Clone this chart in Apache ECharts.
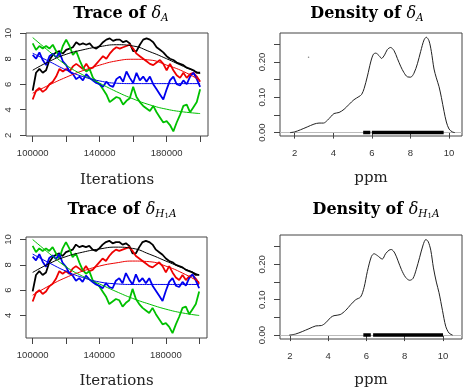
<!DOCTYPE html>
<html>
<head>
<meta charset="utf-8">
<script src="https://cdn.jsdelivr.net/npm/echarts@6.0.0/dist/echarts.min.js"></script>
<style>
  html, body { margin: 0; padding: 0; background: #fff; }
  #chart { width: 468px; height: 390px; }
</style>
</head>
<body>
<div id="chart"></div>
<script>
// iterations (trace thinned every 2000)
var iters = [100000, 102000, 104000, 106000, 108000, 110000, 112000, 114000, 116000, 118000,
  120000, 122000, 124000, 126000, 128000, 130000, 132000, 134000, 136000, 138000,
  140000, 142000, 144000, 146000, 148000, 150000, 152000, 154000, 156000, 158000,
  160000, 162000, 164000, 166000, 168000, 170000, 172000, 174000, 176000, 178000,
  180000, 182000, 184000, 186000, 188000, 190000, 192000, 194000, 196000, 198000, 200000];
var smoothIters = [100000, 110000, 120000, 130000, 140000, 150000, 160000, 170000, 180000, 190000, 200000];

// trace of delta_A, four chains
var aBlack = [5.5, 6.9, 7.2, 6.9, 7.1, 7.9, 8.3, 8.5, 8.6, 8.4, 8.7, 8.8, 8.9, 9.3, 9.1, 9.2, 9.1, 9.2, 8.9, 8.8,
  9.0, 9.3, 9.5, 9.6, 9.4, 9.5, 9.5, 9.3, 9.4, 9.2, 8.6, 8.6, 9.1, 9.5, 9.6, 9.5, 9.3, 8.9, 8.7, 8.5,
  8.2, 8.0, 7.9, 7.7, 7.6, 7.5, 7.3, 7.2, 7.1, 6.9, 6.9];
var aRed = [4.8, 5.5, 5.7, 5.4, 5.6, 6.0, 6.2, 6.6, 7.2, 7.0, 7.2, 7.0, 7.4, 7.6, 7.4, 7.2, 7.6, 7.2, 7.3, 7.6,
  7.9, 8.2, 8.0, 8.4, 8.7, 8.9, 8.8, 8.9, 9.0, 9.1, 8.8, 8.4, 8.2, 8.0, 7.8, 7.6, 7.5, 7.7, 7.9, 7.6,
  7.1, 7.6, 7.1, 6.7, 6.5, 6.9, 6.5, 6.8, 6.9, 6.6, 6.2];
var aBlue = [8.3, 8.0, 8.5, 7.9, 7.5, 8.2, 8.4, 8.1, 8.5, 7.8, 7.5, 7.0, 6.8, 6.4, 6.6, 6.3, 6.8, 6.5, 6.3, 6.1,
  6.0, 5.8, 6.2, 5.9, 5.8, 6.4, 6.6, 6.2, 7.0, 6.5, 6.1, 6.9, 6.3, 6.6, 6.2, 6.6, 6.0, 5.6, 5.2, 4.8,
  5.6, 6.3, 6.6, 6.0, 5.9, 6.3, 6.0, 6.6, 6.9, 6.4, 5.8];
var aGreen = [9.2, 8.7, 9.0, 8.8, 9.0, 8.8, 9.1, 8.6, 8.2, 9.0, 9.5, 9.0, 8.3, 8.6, 7.9, 7.3, 7.0, 7.2, 6.5, 6.2,
  6.0, 5.6, 5.2, 4.6, 4.8, 5.0, 4.9, 4.4, 4.7, 4.9, 5.8, 5.0, 4.6, 4.3, 4.1, 3.9, 4.3, 3.8, 3.4, 3.0,
  3.1, 2.8, 2.3, 3.0, 3.6, 4.3, 4.4, 3.8, 4.2, 4.6, 5.6];
var aBlackFit = [7.1, 7.8, 8.35, 8.7, 8.95, 9.1, 9.0, 8.55, 8.0, 7.4, 6.85];
var aRedFit = [5.3, 5.95, 6.55, 7.07, 7.5, 7.83, 7.96, 7.9, 7.5, 7.0, 6.3];
var aBlueFit = [8.43, 7.78, 7.12, 6.6, 6.26, 6.08, 6.05, 6.05, 6.05, 6.05, 6.05];
var aGreenFit = [9.66, 8.56, 7.5, 6.73, 6.08, 5.42, 4.85, 4.38, 4.04, 3.83, 3.7];

// trace of delta_H1A, four chains
var hBlack = [5.9, 7.2, 7.5, 7.2, 7.4, 8.2, 8.6, 8.8, 8.9, 8.7, 9.0, 9.1, 9.2, 9.6, 9.4, 9.5, 9.4, 9.5, 9.2, 9.1,
  9.3, 9.6, 9.8, 9.9, 9.7, 9.8, 9.8, 9.6, 9.7, 9.5, 8.9, 8.9, 9.4, 9.8, 9.9, 9.8, 9.6, 9.2, 9.0, 8.8,
  8.5, 8.3, 8.2, 8.0, 7.9, 7.8, 7.6, 7.5, 7.4, 7.2, 7.2];
var hRed = [5.1, 5.8, 6.0, 5.7, 5.9, 6.3, 6.5, 6.9, 7.5, 7.3, 7.5, 7.3, 7.7, 7.9, 7.7, 7.5, 7.9, 7.5, 7.6, 7.9,
  8.2, 8.5, 8.3, 8.7, 9.0, 9.2, 9.1, 9.2, 9.3, 9.4, 9.1, 8.7, 8.5, 8.3, 8.1, 7.9, 7.8, 8.0, 8.2, 7.9,
  7.4, 7.9, 7.4, 7.0, 6.8, 7.2, 6.8, 7.1, 7.2, 6.9, 6.5];
var hBlue = [8.65, 8.35, 8.85, 8.25, 7.85, 8.55, 8.75, 8.45, 8.85, 8.15, 7.85, 7.35, 7.15, 6.75, 6.95, 6.65, 7.15, 6.85, 6.65, 6.45,
  6.35, 6.15, 6.55, 6.25, 6.15, 6.75, 6.95, 6.55, 7.35, 6.85, 6.45, 7.25, 6.65, 6.95, 6.55, 6.95, 6.35, 5.95, 5.55, 5.15,
  5.95, 6.65, 6.95, 6.35, 6.25, 6.65, 6.35, 6.95, 7.25, 6.75, 6.15];
var hGreen = [9.5, 9.0, 9.3, 9.1, 9.3, 9.1, 9.4, 8.9, 8.5, 9.3, 9.8, 9.3, 8.6, 8.9, 8.2, 7.6, 7.3, 7.5, 6.8, 6.5,
  6.3, 5.9, 5.5, 4.9, 5.1, 5.3, 5.2, 4.7, 5.0, 5.2, 6.1, 5.3, 4.9, 4.6, 4.4, 4.2, 4.6, 4.1, 3.7, 3.3,
  3.4, 3.1, 2.6, 3.3, 3.9, 4.6, 4.7, 4.1, 4.5, 4.9, 5.9];
var hBlackFit = [7.4, 8.1, 8.65, 9.0, 9.25, 9.4, 9.3, 8.85, 8.3, 7.75, 7.2];
var hRedFit = [5.6, 6.35, 7.0, 7.5, 7.9, 8.15, 8.3, 8.25, 7.9, 7.35, 6.65];
var hBlueFit = [8.85, 8.15, 7.5, 7.0, 6.65, 6.5, 6.45, 6.45, 6.45, 6.45, 6.45];
var hGreenFit = [10.0, 8.9, 7.85, 7.1, 6.5, 5.9, 5.35, 4.9, 4.5, 4.2, 4.0];

// density of delta_A
var densAx = [1.76, 2.0, 2.3, 2.65, 3.0, 3.26, 3.49, 3.7, 3.87, 4.04, 4.3, 4.56, 4.82, 5.07, 5.33, 5.47, 5.6, 5.77,
  5.94, 6.08, 6.2, 6.37, 6.5, 6.66, 6.8, 6.97, 7.15, 7.32, 7.49, 7.66, 7.84, 8.01, 8.18, 8.36, 8.53, 8.7,
  8.82, 8.96, 9.08, 9.22, 9.34, 9.48, 9.6, 9.74, 9.86, 10.0, 10.17, 10.3];
var densAy = [0.0, 0.002, 0.008, 0.016, 0.024, 0.027, 0.027, 0.035, 0.045, 0.054, 0.057, 0.066, 0.08, 0.093, 0.102, 0.108, 0.125, 0.16,
  0.2, 0.222, 0.225, 0.218, 0.21, 0.22, 0.235, 0.241, 0.232, 0.21, 0.188, 0.17, 0.158, 0.157, 0.168, 0.195, 0.23, 0.262,
  0.27, 0.26, 0.23, 0.18, 0.155, 0.13, 0.1, 0.06, 0.03, 0.01, 0.002, 0.0];
var hpdA = [[5.55, 5.92], [6.0, 9.72]];
var strayA = [[2.72, 0.213]];

// density of delta_H1A
var densHx = [1.97, 2.3, 2.65, 3.0, 3.36, 3.65, 3.88, 4.14, 4.31, 4.63, 4.92, 5.18, 5.44, 5.7, 5.88, 6.05, 6.26, 6.4,
  6.57, 6.83, 7.0, 7.18, 7.3, 7.48, 7.65, 7.83, 8.05, 8.26, 8.43, 8.6, 8.78, 8.96, 9.1, 9.22, 9.36, 9.5,
  9.65, 9.79, 9.97, 10.14, 10.31, 10.5];
var densHy = [0.0, 0.003, 0.01, 0.018, 0.026, 0.027, 0.035, 0.05, 0.055, 0.058, 0.07, 0.086, 0.1, 0.108, 0.135, 0.18, 0.222, 0.23,
  0.225, 0.215, 0.23, 0.24, 0.242, 0.232, 0.21, 0.185, 0.163, 0.155, 0.16, 0.185, 0.22, 0.255, 0.27, 0.265, 0.24, 0.19,
  0.15, 0.12, 0.07, 0.025, 0.006, 0.0];
var hpdH = [[5.84, 6.23], [6.35, 10.0]];

var traceTicks = [100000, 120000, 140000, 160000, 180000, 200000];
var traceLabels = [100000, 140000, 180000];
var ppmTicks = [2, 4, 6, 8, 10];
var densTicks = [0, 0.05, 0.1, 0.15, 0.2, 0.25];
var densLabels = [0, 0.1, 0.2];

var chainColors = ['#000000', '#ee0000', '#00c000', '#0000ee'];

function zip(xs, ys) {
  return xs.map(function (x, i) { return [x, ys[i]]; });
}

// R-like box + outward ticks
var tickFont = { fontFamily: 'Liberation Sans', fontSize: 9.5, color: '#333' };
function xAx(gi, min, max, ticks, labels, name, gap, fmt) {
  return {
    gridIndex: gi, type: 'value', min: min, max: max,
    axisLine: { show: false },
    axisTick: { show: true, length: 6, customValues: ticks, lineStyle: { color: '#444' } },
    axisLabel: Object.assign({ customValues: labels, margin: 12, formatter: fmt }, tickFont),
    splitLine: { show: false },
    name: name, nameLocation: 'middle', nameGap: gap,
    nameTextStyle: { fontFamily: 'DejaVu Serif', fontSize: 15, color: '#222' }
  };
}
function yAx(gi, min, max, ticks, labels, fmt) {
  return {
    gridIndex: gi, type: 'value', min: min, max: max,
    axisLine: { show: false },
    axisTick: { show: true, length: 6, customValues: ticks, lineStyle: { color: '#444' } },
    axisLabel: Object.assign({ customValues: labels, margin: 13, rotate: 90, formatter: fmt }, tickFont),
    splitLine: { show: false }
  };
}

function traceSeries(gi, chains, fits) {
  var out = [];
  chains.forEach(function (c, k) {
    out.push({
      type: 'line', xAxisIndex: gi, yAxisIndex: gi, data: zip(iters, c),
      showSymbol: false, lineStyle: { color: chainColors[k], width: 1.8 }, z: 2
    });
  });
  fits.forEach(function (f, k) {
    out.push({
      type: 'line', xAxisIndex: gi, yAxisIndex: gi, data: zip(smoothIters, f), smooth: true,
      showSymbol: false, lineStyle: { color: chainColors[k], width: 1 }, z: 3
    });
  });
  return out;
}

function densSeries(gi, xs, ys, hpd) {
  var out = [{
    type: 'line', xAxisIndex: gi, yAxisIndex: gi, data: zip(xs, ys), smooth: 0.3,
    showSymbol: false, lineStyle: { color: '#222', width: 1 }, z: 3,
    markLine: {
      silent: true, symbol: 'none', label: { show: false }, z: 1,
      lineStyle: { color: '#bbbbbb', type: 'solid', width: 1 },
      data: [{ yAxis: 0 }]
    }
  }];
  hpd.forEach(function (seg) {
    out.push({
      type: 'line', xAxisIndex: gi, yAxisIndex: gi, data: [[seg[0], 0], [seg[1], 0]],
      showSymbol: false, lineStyle: { color: '#000', width: 3.5, cap: 'butt' }, z: 10
    });
  });
  return out;
}

var plain = function (v) { return String(v); };
var two = function (v) { return v.toFixed(2); };

var titleRich = {
  t: { fontFamily: 'DejaVu Serif', fontWeight: 'bold', fontSize: 16, lineHeight: 20, color: '#222' },
  d: { fontFamily: 'DejaVu Serif', fontStyle: 'italic', fontSize: 16, lineHeight: 20, color: '#222' },
  s: { fontFamily: 'DejaVu Serif', fontStyle: 'italic', fontSize: 10.5, lineHeight: 12, verticalAlign: 'bottom', color: '#222' },
  ss: { fontFamily: 'DejaVu Serif', fontSize: 7, lineHeight: 7, verticalAlign: 'bottom', color: '#222' }
};
function titleText(x, y, txt) {
  return { type: 'text', x: x, y: y, style: { text: txt, rich: titleRich, align: 'center', verticalAlign: 'middle' } };
}

var boxStyle = { show: true, borderColor: '#444', borderWidth: 1, backgroundColor: 'transparent' };

var chart = echarts.init(document.getElementById('chart'));
chart.setOption({
  animation: false,
  backgroundColor: '#fff',
  grid: [
    Object.assign({ left: 26, top: 33, width: 182, height: 103 }, boxStyle),
    Object.assign({ left: 280, top: 33, width: 182, height: 103 }, boxStyle),
    Object.assign({ left: 26, top: 237, width: 181, height: 101 }, boxStyle),
    Object.assign({ left: 280, top: 235, width: 182, height: 104 }, boxStyle)
  ],
  xAxis: [
    xAx(0, 96000, 204700, traceTicks, traceLabels, 'Iterations', 37, plain),
    xAx(1, 1.24, 10.67, ppmTicks, ppmTicks, 'ppm', 35, plain),
    xAx(2, 96000, 204700, traceTicks, traceLabels, 'Iterations', 36, plain),
    xAx(3, 1.49, 10.99, ppmTicks, ppmTicks, 'ppm', 34, plain)
  ],
  yAxis: [
    yAx(0, 1.94, 10.02, [2, 4, 6, 8, 10], [2, 4, 6, 8, 10], plain),
    yAx(1, -0.0096, 0.282, densTicks, densLabels, two),
    yAx(2, 2.22, 10.2, [4, 6, 8, 10], [4, 6, 8, 10], plain),
    yAx(3, -0.011, 0.283, densTicks, densLabels, two)
  ],
  graphic: [
    titleText(121, 14, '{t|Trace of }{d|δ}{s|A}'),
    titleText(367, 14, '{t|Density of }{d|δ}{s|A}'),
    titleText(122, 210, '{t|Trace of }{d|δ}{s|H}{ss|1}{s|A}'),
    titleText(376, 210, '{t|Density of }{d|δ}{s|H}{ss|1}{s|A}')
  ],
  series: [].concat(
    traceSeries(0, [aBlack, aRed, aGreen, aBlue], [aBlackFit, aRedFit, aGreenFit, aBlueFit]),
    densSeries(1, densAx, densAy, hpdA),
    [{
      type: 'scatter', xAxisIndex: 1, yAxisIndex: 1, data: strayA, symbolSize: 1.5,
      itemStyle: { color: '#666' }
    }],
    traceSeries(2, [hBlack, hRed, hGreen, hBlue], [hBlackFit, hRedFit, hGreenFit, hBlueFit]),
    densSeries(3, densHx, densHy, hpdH)
  )
});
</script>
</body>
</html>
